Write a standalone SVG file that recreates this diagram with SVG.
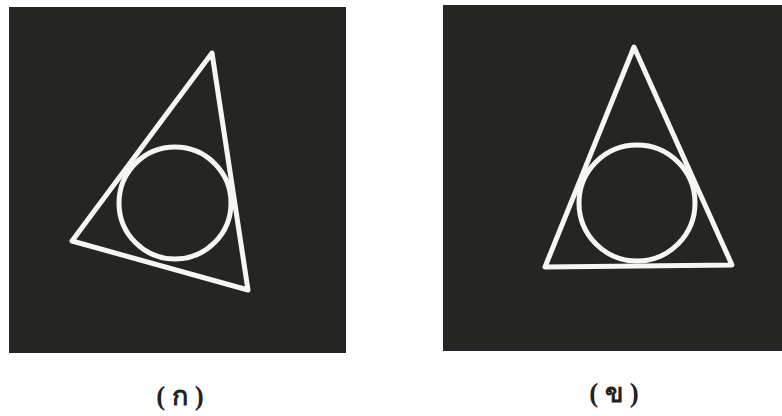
<svg xmlns="http://www.w3.org/2000/svg" width="782" height="416" viewBox="0 0 782 416">
<style>
.panel{fill:#252623;}
.shape{fill:none;stroke:#f7f7f2;stroke-width:5;stroke-linejoin:round;}
.lbl{font-family:"Liberation Serif","DejaVu Serif","Noto Sans",serif;font-size:27px;font-weight:bold;fill:#222;text-anchor:middle;}
</style>
<rect width="782" height="416" fill="#ffffff"/>
<g id="panel-a">
<rect class="panel" x="9" y="7" width="337" height="346"/>
<polygon class="shape" points="212,53 72,241 248,290"/>
<circle class="shape" cx="175" cy="203" r="56"/>
<text class="lbl" x="180" y="405">( ก )</text>
</g>
<g id="panel-b">
<rect class="panel" x="443" y="5" width="339" height="346"/>
<polygon class="shape" points="634,47 545,267 732,265"/>
<circle class="shape" cx="637" cy="203" r="58"/>
<text class="lbl" x="614" y="402">( ข )</text>
</g>
</svg>
